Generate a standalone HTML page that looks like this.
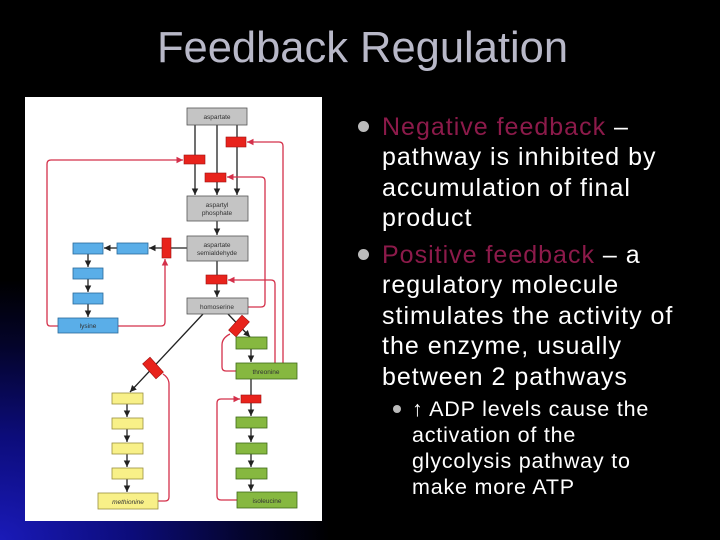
<!DOCTYPE html>
<html><head><style>
html,body{margin:0;padding:0}
body{width:720px;height:540px;overflow:hidden;position:relative;background:radial-gradient(ellipse 330px 260px at 0% 100%, #1a1ab8 0%, #0c0c7a 40%, #04042a 75%, #000 100%), #000;font-family:"Liberation Sans",Arial,sans-serif}
.t{position:absolute;left:0;width:725px;top:23px;text-align:center;font-size:43.5px;color:#b8b8c8;line-height:50px}
.b{position:absolute;left:382px;font-size:25px;letter-spacing:1px;color:#fff;line-height:30.4px;width:305px}
.r{color:#8c1a4a}
.dot{position:absolute;width:11px;height:11px;border-radius:50%;background:#bbb}
.s{position:absolute;left:412px;font-size:21.5px;letter-spacing:0.8px;color:#fff;line-height:26px;width:265px}
</style></head><body>
<div class="t">Feedback Regulation</div>
<div class="dot" style="left:358px;top:121px"></div>
<div class="b" style="top:112px"><span class="r">Negative feedback</span> – pathway is inhibited by accumulation of final product</div>
<div class="dot" style="left:358px;top:249px"></div>
<div class="b" style="top:240px"><span class="r">Positive feedback</span> – a regulatory molecule stimulates the activity of the enzyme, usually between 2 pathways</div>
<div class="dot" style="left:393px;top:405px;width:8px;height:8px"></div>
<div class="s" style="top:396px">↑ ADP levels cause the activation of the glycolysis pathway to make more ATP</div>
<svg style="position:absolute;left:0;top:0" width="720" height="540" viewBox="0 0 720 540">
<defs>
<marker id="a" markerWidth="6" markerHeight="6" refX="5" refY="3" orient="auto"><path d="M0,0.5 L5,3 L0,5.5z" fill="#222"/></marker>
<marker id="ar" markerWidth="6" markerHeight="6" refX="5" refY="3" orient="auto"><path d="M0,0.5 L5,3 L0,5.5z" fill="#d4304a"/></marker>
</defs>
<rect x="25" y="97" width="297" height="424" fill="#fff"/>
<g stroke="#222" stroke-width="1.3" fill="none">
<line x1="195" y1="125" x2="195" y2="195" marker-end="url(#a)"/>
<line x1="217" y1="125" x2="217" y2="195" marker-end="url(#a)"/>
<line x1="237" y1="125" x2="237" y2="195" marker-end="url(#a)"/>
<line x1="217" y1="221" x2="217" y2="235" marker-end="url(#a)"/>
<line x1="217" y1="261" x2="217" y2="297" marker-end="url(#a)"/>
<line x1="187" y1="248" x2="149" y2="248" marker-end="url(#a)"/>
<line x1="117" y1="248" x2="104" y2="248" marker-end="url(#a)"/>
<line x1="88" y1="254" x2="88" y2="267" marker-end="url(#a)"/>
<line x1="88" y1="279" x2="88" y2="292" marker-end="url(#a)"/>
<line x1="88" y1="304" x2="88" y2="317" marker-end="url(#a)"/>
<line x1="203" y1="314" x2="130" y2="392" marker-end="url(#a)"/>
<line x1="228" y1="314" x2="250" y2="337" marker-end="url(#a)"/>
<line x1="251" y1="349" x2="251" y2="362" marker-end="url(#a)"/>
<line x1="251" y1="379" x2="251" y2="416" marker-end="url(#a)"/>
<line x1="251" y1="428" x2="251" y2="442" marker-end="url(#a)"/>
<line x1="251" y1="454" x2="251" y2="467" marker-end="url(#a)"/>
<line x1="251" y1="479" x2="251" y2="491" marker-end="url(#a)"/>
<line x1="127" y1="404" x2="127" y2="417" marker-end="url(#a)"/>
<line x1="127" y1="429" x2="127" y2="442" marker-end="url(#a)"/>
<line x1="127" y1="454" x2="127" y2="467" marker-end="url(#a)"/>
<line x1="127" y1="479" x2="127" y2="492" marker-end="url(#a)"/>
</g>
<g stroke="#d4304a" stroke-width="1.3" fill="none">
<path d="M58,326 L50,326 Q47,326 47,322 L47,164 Q47,160 51,160 L183,160" marker-end="url(#ar)"/>
<path d="M118,326 L161,326 Q165,326 165,322 L165,259" marker-end="url(#ar)"/>
<path d="M248,307 L261,307 Q265,307 265,303 L265,181 Q265,177 261,177 L227,177" marker-end="url(#ar)"/>
<path d="M275,363 L275,284 Q275,280 271,280 L228,280" marker-end="url(#ar)"/>
<path d="M283,363 L283,146 Q283,142 279,142 L247,142" marker-end="url(#ar)"/>
<path d="M236,371 L226,371 Q222,371 222,367 L222,345 Q222,338 230,334"/>
<path d="M237,500 L221,500 Q217,500 217,496 L217,403 Q217,399 221,399 L240,399" marker-end="url(#ar)"/>
<path d="M158,501 L165,501 Q169,501 169,497 L169,384 Q169,378 163,374"/>
</g>
<g fill="#e8231c" stroke="#a01010" stroke-width="0.6">
<rect x="184" y="155" width="21" height="9"/>
<rect x="226" y="137" width="20" height="10"/>
<rect x="205" y="173" width="21" height="9"/>
<rect x="162" y="238" width="9" height="20"/>
<rect x="206" y="275" width="21" height="9"/>
<rect x="241" y="395" width="20" height="8"/>
<rect x="229" y="321" width="20" height="10" transform="rotate(-48 239 326)"/>
<rect x="143" y="363" width="20" height="10" transform="rotate(48 153 368)"/>
</g>
<g stroke="#555" stroke-width="0.8">
<rect x="187" y="108" width="60" height="17" fill="#c4c4c4"/>
<rect x="187" y="196" width="61" height="25" fill="#c4c4c4"/>
<rect x="187" y="236" width="61" height="25" fill="#c4c4c4"/>
<rect x="187" y="298" width="61" height="16" fill="#c4c4c4"/>
<g fill="#5aaee8" stroke="#2a6a9a">
<rect x="73" y="243" width="30" height="11"/><rect x="117" y="243" width="31" height="11"/>
<rect x="73" y="268" width="30" height="11"/><rect x="73" y="293" width="30" height="11"/>
<rect x="58" y="318" width="60" height="15"/></g>
<g fill="#86b840" stroke="#3e6a1a">
<rect x="236" y="337" width="31" height="12"/><rect x="236" y="363" width="61" height="16"/>
<rect x="236" y="417" width="31" height="11"/><rect x="236" y="443" width="31" height="11"/><rect x="236" y="468" width="31" height="11"/>
<rect x="237" y="492" width="60" height="16"/></g>
<g fill="#f8f088" stroke="#9a9040">
<rect x="112" y="393" width="31" height="11"/><rect x="112" y="418" width="31" height="11"/>
<rect x="112" y="443" width="31" height="11"/><rect x="112" y="468" width="31" height="11"/>
<rect x="98" y="493" width="60" height="16"/></g>
</g>
<g font-family="Liberation Sans,Arial,sans-serif" font-size="6.5" fill="#333" text-anchor="middle">
<text x="217" y="119">aspartate</text>
<text x="217" y="207">aspartyl</text><text x="217" y="215">phosphate</text>
<text x="217" y="247">aspartate</text><text x="217" y="255">semialdehyde</text>
<text x="217" y="309">homoserine</text>
<text x="88" y="328">lysine</text>
<text x="266" y="374">threonine</text>
<text x="267" y="503">isoleucine</text>
<text x="128" y="504" font-style="italic">methionine</text>
</g>
</svg>
</body></html>
